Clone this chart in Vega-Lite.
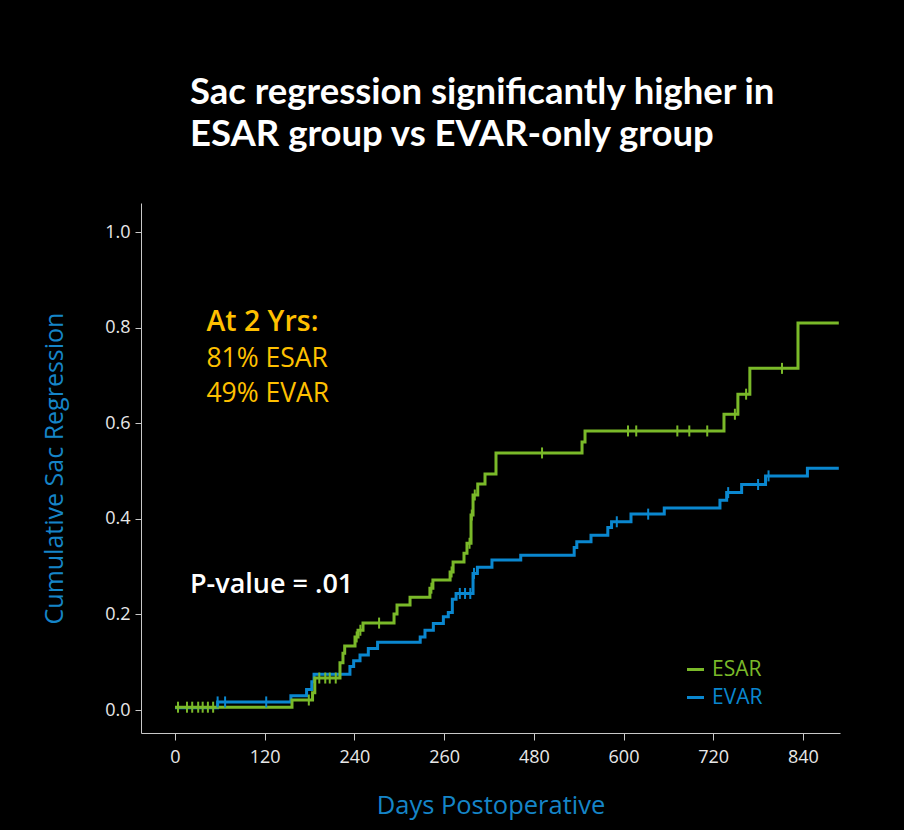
{
  "$schema": "https://vega.github.io/schema/vega-lite/v6.json",
  "width": 699,
  "height": 530,
  "autosize": {"type": "none"},
  "padding": {"left": 141, "top": 203, "right": 64, "bottom": 97},
  "background": "black",
  "config": {"view": {"stroke": null}},
  "title": {
    "text": ["Sac regression significantly higher in", "ESAR group vs EVAR-only group"],
    "anchor": "start",
    "frame": "group",
    "dx": 49,
    "offset": 50,
    "font": "Lato",
    "fontSize": 36.5,
    "fontWeight": "bold",
    "color": "white",
    "lineHeight": 42
  },
  "datasets": {
    "curve": [
      {"group": "ESAR", "day": 0, "value": 0.006},
      {"group": "ESAR", "day": 156.5, "value": 0.021},
      {"group": "ESAR", "day": 184, "value": 0.036},
      {"group": "ESAR", "day": 187, "value": 0.067},
      {"group": "ESAR", "day": 220.7, "value": 0.099},
      {"group": "ESAR", "day": 224.7, "value": 0.119},
      {"group": "ESAR", "day": 227, "value": 0.134},
      {"group": "ESAR", "day": 240.8, "value": 0.153},
      {"group": "ESAR", "day": 244.8, "value": 0.167},
      {"group": "ESAR", "day": 251.5, "value": 0.182},
      {"group": "ESAR", "day": 293, "value": 0.201},
      {"group": "ESAR", "day": 297, "value": 0.22},
      {"group": "ESAR", "day": 314.4, "value": 0.236},
      {"group": "ESAR", "day": 341, "value": 0.255},
      {"group": "ESAR", "day": 345, "value": 0.272},
      {"group": "ESAR", "day": 368, "value": 0.289},
      {"group": "ESAR", "day": 372, "value": 0.31},
      {"group": "ESAR", "day": 386.6, "value": 0.328},
      {"group": "ESAR", "day": 390.6, "value": 0.349},
      {"group": "ESAR", "day": 396, "value": 0.408},
      {"group": "ESAR", "day": 398.7, "value": 0.45},
      {"group": "ESAR", "day": 405, "value": 0.473},
      {"group": "ESAR", "day": 414.7, "value": 0.494},
      {"group": "ESAR", "day": 429.4, "value": 0.538},
      {"group": "ESAR", "day": 544.5, "value": 0.561},
      {"group": "ESAR", "day": 548.5, "value": 0.584},
      {"group": "ESAR", "day": 734.4, "value": 0.619},
      {"group": "ESAR", "day": 753, "value": 0.661},
      {"group": "ESAR", "day": 769, "value": 0.715},
      {"group": "ESAR", "day": 833.4, "value": 0.81},
      {"group": "ESAR", "day": 888, "value": 0.81},
      {"group": "EVAR", "day": 0, "value": 0.005},
      {"group": "EVAR", "day": 57, "value": 0.017},
      {"group": "EVAR", "day": 155, "value": 0.03},
      {"group": "EVAR", "day": 176, "value": 0.043},
      {"group": "EVAR", "day": 183, "value": 0.059},
      {"group": "EVAR", "day": 186, "value": 0.075},
      {"group": "EVAR", "day": 234, "value": 0.091},
      {"group": "EVAR", "day": 239, "value": 0.103},
      {"group": "EVAR", "day": 247.5, "value": 0.115},
      {"group": "EVAR", "day": 258.6, "value": 0.129},
      {"group": "EVAR", "day": 271, "value": 0.142},
      {"group": "EVAR", "day": 328, "value": 0.153},
      {"group": "EVAR", "day": 334.4, "value": 0.167},
      {"group": "EVAR", "day": 345.6, "value": 0.181},
      {"group": "EVAR", "day": 359, "value": 0.195},
      {"group": "EVAR", "day": 365.6, "value": 0.204},
      {"group": "EVAR", "day": 371, "value": 0.232},
      {"group": "EVAR", "day": 376, "value": 0.244},
      {"group": "EVAR", "day": 398.7, "value": 0.286},
      {"group": "EVAR", "day": 404.5, "value": 0.299},
      {"group": "EVAR", "day": 424, "value": 0.314},
      {"group": "EVAR", "day": 462.5, "value": 0.324},
      {"group": "EVAR", "day": 534, "value": 0.34},
      {"group": "EVAR", "day": 537.5, "value": 0.352},
      {"group": "EVAR", "day": 556.5, "value": 0.366},
      {"group": "EVAR", "day": 579, "value": 0.382},
      {"group": "EVAR", "day": 584, "value": 0.394},
      {"group": "EVAR", "day": 610, "value": 0.41},
      {"group": "EVAR", "day": 654.5, "value": 0.423},
      {"group": "EVAR", "day": 729, "value": 0.439},
      {"group": "EVAR", "day": 738, "value": 0.455},
      {"group": "EVAR", "day": 758, "value": 0.472},
      {"group": "EVAR", "day": 790, "value": 0.49},
      {"group": "EVAR", "day": 846, "value": 0.506},
      {"group": "EVAR", "day": 888, "value": 0.506}
    ],
    "censor": [
      {"group": "ESAR", "day": 4, "value": 0.006},
      {"group": "ESAR", "day": 16, "value": 0.006},
      {"group": "ESAR", "day": 23, "value": 0.006},
      {"group": "ESAR", "day": 31, "value": 0.006},
      {"group": "ESAR", "day": 37, "value": 0.006},
      {"group": "ESAR", "day": 44, "value": 0.006},
      {"group": "ESAR", "day": 51, "value": 0.006},
      {"group": "ESAR", "day": 179, "value": 0.021},
      {"group": "ESAR", "day": 193, "value": 0.067},
      {"group": "ESAR", "day": 201, "value": 0.067},
      {"group": "ESAR", "day": 207, "value": 0.067},
      {"group": "ESAR", "day": 215, "value": 0.067},
      {"group": "ESAR", "day": 243, "value": 0.153},
      {"group": "ESAR", "day": 248, "value": 0.167},
      {"group": "ESAR", "day": 273, "value": 0.182},
      {"group": "ESAR", "day": 343, "value": 0.255},
      {"group": "ESAR", "day": 370, "value": 0.289},
      {"group": "ESAR", "day": 394, "value": 0.349},
      {"group": "ESAR", "day": 397, "value": 0.408},
      {"group": "ESAR", "day": 401, "value": 0.45},
      {"group": "ESAR", "day": 491, "value": 0.538},
      {"group": "ESAR", "day": 606, "value": 0.584},
      {"group": "ESAR", "day": 617, "value": 0.584},
      {"group": "ESAR", "day": 672, "value": 0.584},
      {"group": "ESAR", "day": 688, "value": 0.584},
      {"group": "ESAR", "day": 712, "value": 0.584},
      {"group": "ESAR", "day": 749, "value": 0.619},
      {"group": "ESAR", "day": 764, "value": 0.661},
      {"group": "ESAR", "day": 812, "value": 0.715},
      {"group": "EVAR", "day": 57, "value": 0.017},
      {"group": "EVAR", "day": 67, "value": 0.017},
      {"group": "EVAR", "day": 122, "value": 0.017},
      {"group": "EVAR", "day": 381, "value": 0.244},
      {"group": "EVAR", "day": 388, "value": 0.244},
      {"group": "EVAR", "day": 395, "value": 0.244},
      {"group": "EVAR", "day": 400, "value": 0.286},
      {"group": "EVAR", "day": 591, "value": 0.394},
      {"group": "EVAR", "day": 633, "value": 0.41},
      {"group": "EVAR", "day": 740, "value": 0.455},
      {"group": "EVAR", "day": 780, "value": 0.472},
      {"group": "EVAR", "day": 794, "value": 0.49}
    ],
    "notes": [
      {"kind": "head", "label": "At 2 Yrs:", "day": 42, "value": 0.793},
      {"kind": "line", "label": "81% ESAR", "day": 42, "value": 0.718},
      {"kind": "line", "label": "49% EVAR", "day": 42, "value": 0.645},
      {"kind": "p", "label": "P-value = .01", "day": 20, "value": 0.244}
    ]
  },
  "encoding": {
    "x": {
      "field": "day",
      "type": "quantitative",
      "scale": {"domain": [-45.5, 889.6], "nice": false, "zero": false},
      "axis": {
        "title": "Days Postoperative",
        "values": [0, 120, 240, 360, 480, 600, 720, 840],
        "labelExpr": "datum.value == 360 ? '260' : datum.label",
        "grid": false,
        "domainColor": "#c8c8c8",
        "tickColor": "#c8c8c8",
        "tickSize": 7,
        "labelColor": "#e8e8e8",
        "labelFont": "Open Sans",
        "labelFontSize": 18,
        "labelPadding": 8,
        "titleColor": "#1585c8",
        "titleFont": "Open Sans",
        "titleFontSize": 25.5,
        "titleFontWeight": "normal",
        "titlePadding": 27
      }
    },
    "y": {
      "field": "value",
      "type": "quantitative",
      "scale": {"domain": [-0.048, 1.061], "nice": false, "zero": false},
      "axis": {
        "title": "Cumulative Sac Regression",
        "values": [0, 0.2, 0.4, 0.6, 0.8, 1.0],
        "format": ".1f",
        "grid": false,
        "domainColor": "#c8c8c8",
        "tickColor": "#c8c8c8",
        "tickSize": 6,
        "labelColor": "#e8e8e8",
        "labelFont": "Open Sans",
        "labelFontSize": 18,
        "labelPadding": 5,
        "titleColor": "#1585c8",
        "titleFont": "Open Sans",
        "titleFontSize": 25,
        "titleFontWeight": "normal",
        "titlePadding": 37
      }
    }
  },
  "layer": [
    {
      "data": {"name": "curve"},
      "transform": [{"filter": "datum.group == 'EVAR'"}],
      "mark": {"type": "line", "interpolate": "step-after", "strokeWidth": 3},
      "encoding": {
        "color": {
          "field": "group",
          "type": "nominal",
          "scale": {"domain": ["ESAR", "EVAR"], "range": ["#7ab929", "#0a87cf"]},
          "legend": {
            "title": null,
            "orient": "none",
            "legendX": 544,
            "legendY": 456,
            "symbolType": "stroke",
            "symbolSize": 289,
            "symbolStrokeWidth": 3,
            "labelFont": "Open Sans",
            "labelFontSize": 21,
            "labelOffset": 6,
            "rowPadding": 6,
            "encode": {"labels": {"update": {"fill": {"scale": "color", "field": "value"}}}}
          }
        }
      }
    },
    {
      "data": {"name": "curve"},
      "transform": [{"filter": "datum.group == 'ESAR'"}],
      "mark": {"type": "line", "interpolate": "step-after", "strokeWidth": 3},
      "encoding": {"color": {"field": "group", "type": "nominal"}}
    },
    {
      "data": {"name": "censor"},
      "mark": {"type": "tick", "orient": "vertical", "size": 11, "thickness": 2, "opacity": 1},
      "encoding": {"color": {"field": "group", "type": "nominal"}}
    },
    {
      "data": {"name": "notes"},
      "transform": [{"filter": "datum.kind == 'head'"}],
      "mark": {"type": "text", "align": "left", "baseline": "alphabetic", "font": "Open Sans", "fontSize": 28.5, "fontWeight": 600, "color": "#ffc000"},
      "encoding": {"text": {"field": "label"}}
    },
    {
      "data": {"name": "notes"},
      "transform": [{"filter": "datum.kind == 'line'"}],
      "mark": {"type": "text", "align": "left", "baseline": "alphabetic", "font": "Open Sans", "fontSize": 26.5, "color": "#ffc000"},
      "encoding": {"text": {"field": "label"}}
    },
    {
      "data": {"name": "notes"},
      "transform": [{"filter": "datum.kind == 'p'"}],
      "mark": {"type": "text", "align": "left", "baseline": "alphabetic", "font": "Open Sans", "fontSize": 27, "fontWeight": 600, "color": "white"},
      "encoding": {"text": {"field": "label"}}
    }
  ]
}
